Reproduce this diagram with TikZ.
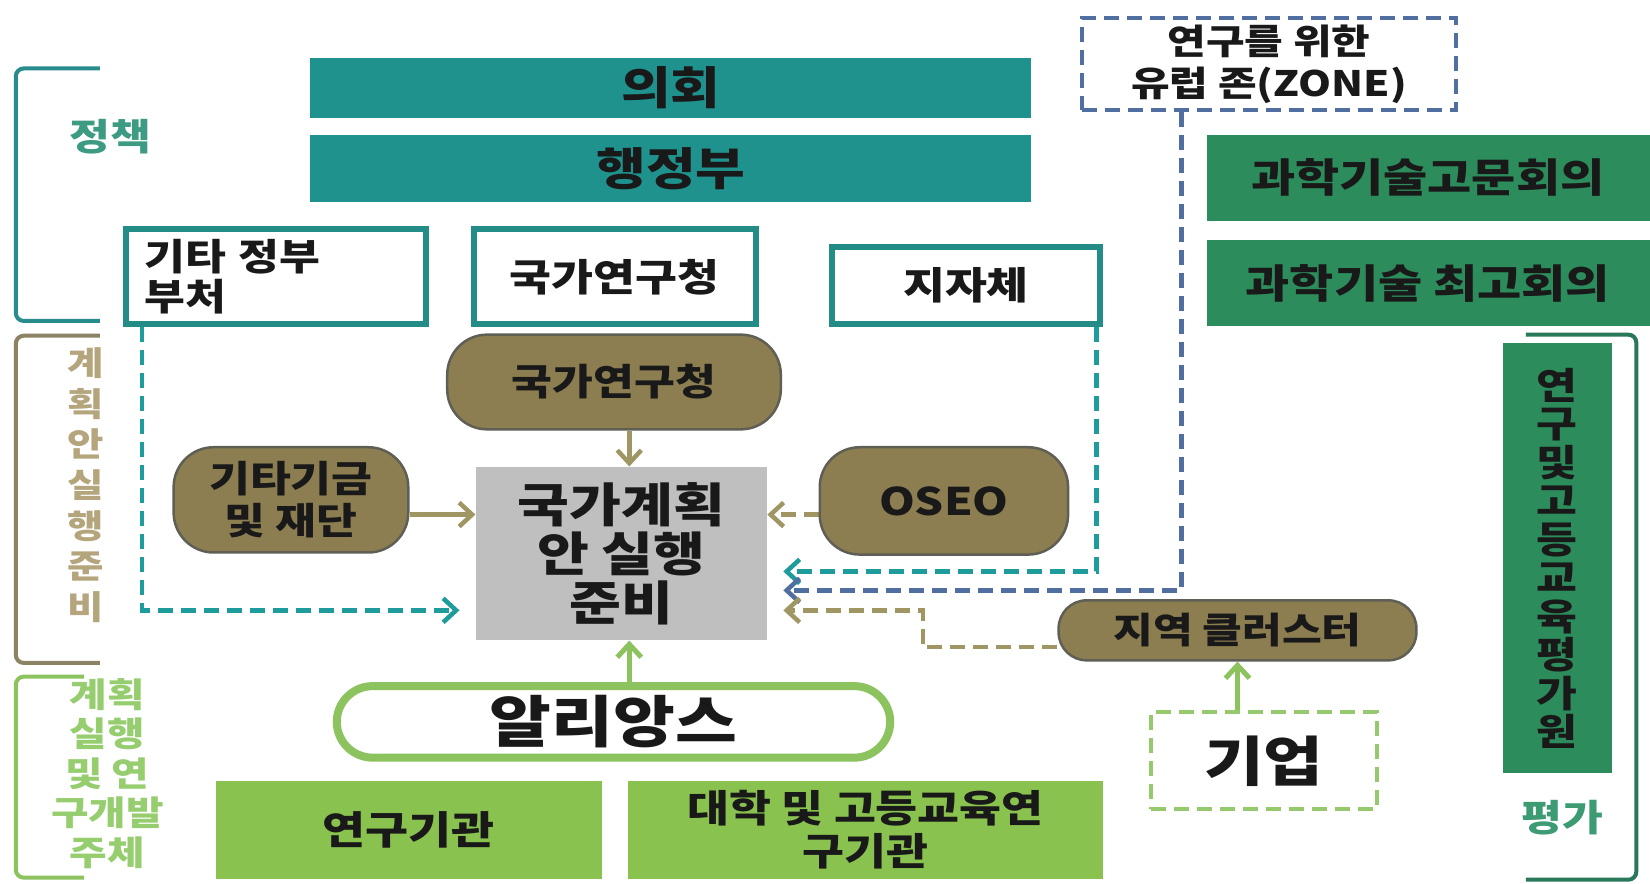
\documentclass[tikz,border=0pt]{standalone}
\usepackage{fontspec}
\setmainfont{Noto Sans CJK KR}[FakeStretch=1.2]
\usetikzlibrary{arrows.meta}
\newcommand{\pxu}{1.0523pt}
\newcommand{\fsz}[2]{\fontsize{#1pt}{#2pt}\selectfont}
\definecolor{cTeal}{RGB}{31,146,142}
\definecolor{cTealB}{RGB}{35,140,135}
\definecolor{cOlive}{RGB}{140,126,80}
\definecolor{cOliveB}{RGB}{95,95,85}
\definecolor{cGray}{RGB}{191,191,191}
\definecolor{cDG}{RGB}{44,140,92}
\definecolor{cLG}{RGB}{137,194,78}
\definecolor{cLGb}{RGB}{140,195,95}
\definecolor{txt}{RGB}{25,25,25}
\definecolor{tA}{RGB}{60,155,130}
\definecolor{tB}{RGB}{180,165,125}
\definecolor{tC}{RGB}{150,205,110}
\definecolor{tD}{RGB}{60,155,115}
\definecolor{bA}{RGB}{40,140,140}
\definecolor{bB}{RGB}{140,130,100}
\definecolor{bC}{RGB}{140,195,95}
\definecolor{bD}{RGB}{40,120,90}
\definecolor{dTeal}{RGB}{30,155,155}
\definecolor{dBlue}{RGB}{80,110,160}
\definecolor{dOlive}{RGB}{160,150,100}
\definecolor{dGreen}{RGB}{150,200,110}
\pgfdeclarelayer{bg}
\pgfsetlayers{bg,main}
\begin{document}
\begin{tikzpicture}[x=1.0523pt,y=-1.0523pt,
  every node/.style={inner sep=0pt, font=\bfseries, text=txt},
  sz/.style 2 args={minimum width=#1*\pxu, minimum height=#2*\pxu},
  tealbar/.style={fill=cTeal},
  wbox/.style={draw=cTealB, line width=6pt, fill=white},
  olivebox/.style={fill=cOlive, draw=cOliveB, line width=2.5pt, rounded corners=40pt},
  greybox/.style={fill=cGray},
  dgbox/.style={fill=cDG},
  lgbox/.style={fill=cLG},
  bracket/.style={line width=4pt, rounded corners=8pt},
  dsh/.style={dash pattern=on 15pt off 8pt},
  tip/.style={-{Straight Barb[length=13pt,width=24pt]}},
  oarr/.style={tip, draw=dOlive, line width=4.5pt},
  garr/.style={tip, draw=cLGb, line width=5pt},
  tdash/.style={tip, dsh, draw=dTeal, line width=4.5pt, shorten >=16pt},
  bdash/.style={tip, dsh, draw=dBlue, line width=4.5pt, shorten >=16pt},
  odash/.style={tip, dsh, draw=dOlive, line width=4.5pt, shorten >=16pt},
  lab/.style={align=center}
]
\useasboundingbox (0,0) rectangle (1568,840);

% brackets
\draw[bracket, bA] (95,65) -- (15,65) -- (15,305) -- (95,305);
\draw[bracket, bB] (95,319) -- (15,319) -- (15,630) -- (95,630);
\draw[bracket, bC] (80,643) -- (15,643) -- (15,834) -- (80,834);
\draw[bracket, bD] (1450,318) -- (1555,318) -- (1555,836) -- (1450,836);

% side labels
\node[text=tA, font=\bfseries\fsz{37}{40}] (lpol) at (105,130) {정책};
\node[text=tB, lab, font=\bfseries\fsz{33}{40.7}] (lprep) at (81,461) {계\\획\\안\\실\\행\\준\\비};
\node[text=tC, lab, font=\bfseries\fsz{34}{39.5}] (lexec) at (102,735) {계획\\실행\\및 연\\구개발\\주체};
\node[text=tD, font=\bfseries\fsz{37}{40}] (leval) at (1485,777) {평가};

% top bars
\node[tealbar, sz={685}{57}, font=\bfseries\fsz{45}{50}] (parl) at (637.5,83.5) {의회};
\node[tealbar, sz={685}{64}, font=\bfseries\fsz{45}{50}] (exec) at (637.5,160) {행정부};

% white boxes
\node[wbox, sz={285}{90}, text width=250*\pxu, align=left, font=\bfseries\fsz{37}{40}] (gov) at (262.5,263) {기타 정부\\부처};
\node[wbox, sz={268}{90}, font=\bfseries\fsz{38}{40}] (nrc) at (584,263) {국가연구청};
\node[wbox, sz={254}{73}, font=\bfseries\fsz{38}{40}] (ldg) at (918,271.5) {\raisebox{-10pt}{지자체}};

% olive nodes
\node[olivebox, sz={317}{90}, font=\bfseries\fsz{37}{40}] (nrc2) at (583.5,363) {국가연구청};
\node[olivebox, sz={223}{100}, lab, font=\bfseries\fsz{37}{42}] (fund) at (276.5,475) {기타기금\\및 재단};
\node[olivebox, sz={236}{102}, font=\bfseries\fsz{38}{40}] (oseo) at (897,476) {OSEO};
\node[olivebox, rounded corners=28pt, sz={340}{57}, font=\bfseries\fsz{36}{40}] (cluster) at (1176,599) {지역 클러스터};

% central grey box
\node[greybox, sz={277}{165}, lab, font=\bfseries\fsz{47}{49}] (plan) at (590.5,526) {국가계획\\안 실행\\준비};

% alliance
\node[draw=cLGb, line width=8pt, fill=white, rounded corners=36pt, sz={526}{68}, font=\bfseries\fsz{56}{60}] (alliance) at (583,686) {알리앙스};

% bottom boxes
\node[lgbox, sz={367}{93}, font=\bfseries\fsz{39}{42}] (inst) at (388.5,788.5) {연구기관};
\node[lgbox, sz={451}{93}, lab, font=\bfseries\fsz{38}{43}] (univ) at (822.5,788.5) {대학 및 고등교육연\\구기관};

% firm
\node[draw=dGreen, dsh, line width=4pt, sz={215}{92}, font=\bfseries\fsz{54}{58}] (firm) at (1201,723) {기업};

% zone
\node[draw=dBlue, dsh, line width=4pt, sz={356}{88}, lab, font=\bfseries\fsz{35}{42}] (zone) at (1206,61) {연구를 위한\\유럽 존(ZONE)};

% right green boxes
\node[dgbox, sz={433}{82}, font=\bfseries\fsz{40}{42}] (sac) at (1363.5,169) {\hspace*{-14pt}과학기술고문회의};
\node[dgbox, sz={433}{82}, font=\bfseries\fsz{40}{42}] (ssc) at (1363.5,269) {\hspace*{-14pt}과학기술 최고회의};
\node[dgbox, sz={104}{409}, lab, font=\bfseries\fsz{37}{38.5}] (hceres) at (1480,530.5) {연\\구\\및\\고\\등\\교\\육\\평\\가\\원};

% connectors
\coordinate (x598) at (598,0);
\coordinate (y490) at (0,489);
\coordinate (tl) at (135,580);
\coordinate (tr) at (1042,543);
\coordinate (br) at (1123,561);
\coordinate (oc1) at (877,615);
\coordinate (oc2) at (877,580);
\coordinate (x1176) at (1176,0);
\begin{pgfonlayer}{bg}
\fill[white] (0,0) rectangle (1568,840);
\draw[oarr] (nrc2.south -| x598) -- (plan.north -| x598);
\draw[oarr] (fund.east |- y490) -- (plan.west |- y490);
\draw[oarr, dsh] (oseo.west |- y490) -- (plan.east |- y490);
\draw[tdash] (gov.south -| tl) -- (tl) -- (plan.west |- tl);
\draw[tdash] (ldg.south -| tr) -- (tr) -- (plan.east |- tr);
\draw[bdash] (zone.south -| br) -- (br) -- (plan.east |- br);
\draw[odash] (cluster.west |- oc1) -- (oc1) -- (oc2) -- (plan.east |- oc2);
\draw[garr] (alliance.north -| x598) -- (plan.south -| x598);
\draw[garr] (firm.north -| x1176) -- (cluster.south -| x1176);
\end{pgfonlayer}
\end{tikzpicture}
\end{document}
